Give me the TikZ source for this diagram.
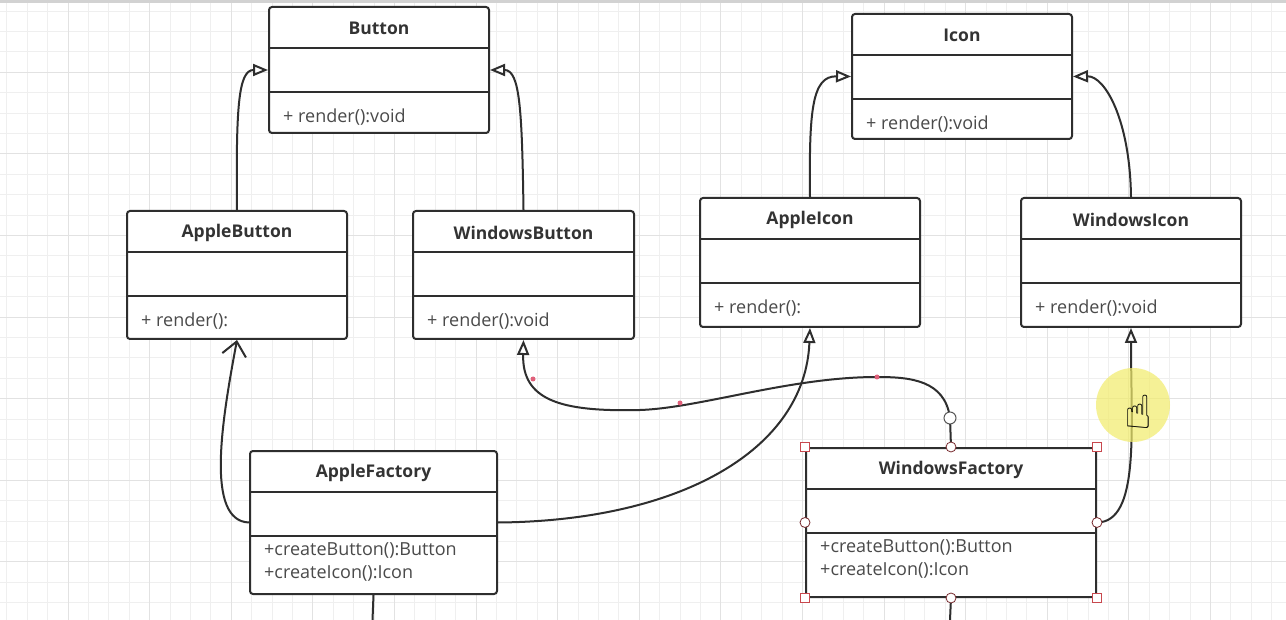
\documentclass[tikz,border=0pt]{standalone}
\usepackage{fontspec}
\setmainfont{Open Sans}
\newfontfamily\symfont{DejaVu Sans}
\usetikzlibrary{arrows.meta}
\usetikzlibrary{calc}
\usetikzlibrary{positioning}

\definecolor{umlline}{HTML}{2E2E2E}
\definecolor{umltext}{HTML}{333333}
\definecolor{optext}{HTML}{4A4A4A}
\definecolor{selred}{HTML}{C8484E}
\definecolor{dotred}{HTML}{E0607A}
\definecolor{gridlight}{HTML}{EFEFEF}
\definecolor{griddark}{HTML}{E2E2E2}
\definecolor{hilite}{HTML}{F2EC6A}

\tikzset{
  clsbox/.style={draw=umlline, line width=2pt, rounded corners=3pt, fill=white, inner sep=0pt},
  clssep/.style={draw=umlline, line width=2pt},
  clstitle/.style={font=\fontsize{17.5}{20}\selectfont\bfseries, text=umltext, inner sep=0pt},
  clsops/.style={font=\fontsize{18}{23}\selectfont, text=optext, align=left, inner sep=0pt},
  inherit/.style={draw=umlline, line width=2pt, -{Triangle[open, length=15pt, width=12pt]}},
  depend/.style={draw=umlline, line width=2pt, -{Straight Barb[length=14pt, width=24pt]}},
  plainline/.style={draw=umlline, line width=2pt},
  selsq/.style={rectangle, draw=selred, fill=white, line width=0.8pt, minimum size=9pt, inner sep=0pt},
  selknob/.style={circle, draw=selred!60!black, fill=white, line width=0.8pt, minimum size=10pt, inner sep=0pt},
  bendknob/.style={circle, draw=umlline!80, fill=white, line width=1pt, minimum size=12pt, inner sep=0pt},
  benddot/.style={circle, fill=dotred, minimum size=5pt, inner sep=0pt},
}

% name, left, top, width, height, title, operations
\newcommand{\umlclass}[7]{%
  \node[clsbox, minimum width=#4pt, minimum height=#5pt, anchor=north west] (#1) at (#2,#3) {};
  \path[clssep] ($(#1.north west)+(0,42)$) -- ($(#1.north east)+(0,42)$);
  \path[clssep] ($(#1.north west)+(0,86)$) -- ($(#1.north east)+(0,86)$);
  \node[clstitle] (#1-name) at ($(#1.north)+(0,22.5)$) {#6};
  \node[clsops, anchor=west] (#1-ops) at ($(#1.north west)+(15,111.5)$) {#7};
}

\begin{document}
\begin{tikzpicture}[x=1pt, y=-1pt]
    \useasboundingbox (0,0) rectangle (1286,620);
    \fill[white] (0,0) rectangle (1286,620);
    % grid
    \draw[gridlight, line width=0.8pt, shift={(6.8,11)}] (-20.4,-20.4) grid[step=20.4pt] (1290,620);
    \draw[griddark, line width=0.9pt, shift={(68,72.2)}] (-81.6,-81.6) grid[step=81.6pt] (1230,560);
    \fill[gray!35] (0,0) rectangle (1286,3);

    % classes
    \umlclass{button}{268}{6}{220}{126}{Button}{+ render():void}
    \umlclass{icon}{851}{13}{220}{125}{Icon}{+ render():void}
    \umlclass{applebtn}{126}{210}{220}{128}{AppleButton}{+ render():}
    \umlclass{winbtn}{412}{210}{221}{128}{WindowsButton}{+ render():void}
    \umlclass{appleicon}{699}{197}{220}{129}{AppleIcon}{+ render():}
    \umlclass{winicon}{1020}{197}{220}{129}{WindowsIcon}{+ render():void}
    \umlclass{applefac}{249}{450}{247}{143}{AppleFactory}{+createButton():Button\\+createIcon():Icon}
    \umlclass{winfac}{805}{447}{290}{149}{WindowsFactory}{+createButton():Button\\+createIcon():Icon}

    % generalization
    \path[inherit] (applebtn.north) .. controls (236,110) and (238,70) .. (button.west);
    \path[inherit] (winbtn.north) .. controls (522,110) and (520,70) .. (button.east);
    \path[inherit] (appleicon.north) .. controls (809,110) and (812,76) .. (icon.west);
    \path[inherit] (winicon.north) .. controls (1130,120) and (1105,76) .. (icon.east);

    % factories
    \path[depend] (applefac.west) .. controls (205,521) and (222,420) .. (applebtn.south);
    \path[inherit] (applefac.east) .. controls (680,521) and (805,450) .. (appleicon.south);
    \coordinate (wfknob) at (950,418);
    \path[inherit] (winfac.north) -- (wfknob) .. controls (945,380) and (910,377) .. (877,377)
        .. controls (790,377) and (700,408) .. (640,410)
        .. controls (560,412) and (522,400) .. (winbtn.south);
    \path[inherit] (winfac.east) .. controls (1140,522) and (1131,430) .. (winicon.south);

    \coordinate (afdown) at (372.5,620);
    \coordinate (wfdown) at (950,620);
    \path[plainline] (applefac.south) -- (afdown);
    \path[plainline] (winfac.south) -- (wfdown);

    % selection handles
    \node[selsq] at (winfac.north west) {};
    \node[selsq] at (winfac.north east) {};
    \node[selsq] at (winfac.south west) {};
    \node[selsq] at (winfac.south east) {};
    \node[selknob] at (winfac.north) {};
    \node[selknob] at (winfac.west) {};
    \node[selknob] at (winfac.east) {};
    \node[selknob] at (winfac.south) {};
    \node[bendknob] at (wfknob) {};
    \node[benddot] at (533,379) {};
    \node[benddot] at (680,403) {};
    \node[benddot] at (877,377) {};

    % cursor highlight
    \fill[hilite, opacity=0.7] (1133,405) circle (37);
    \node[font=\symfont\fontsize{46}{46}\selectfont, text=black] at (1138,412) {☝};
\end{tikzpicture}
\end{document}
